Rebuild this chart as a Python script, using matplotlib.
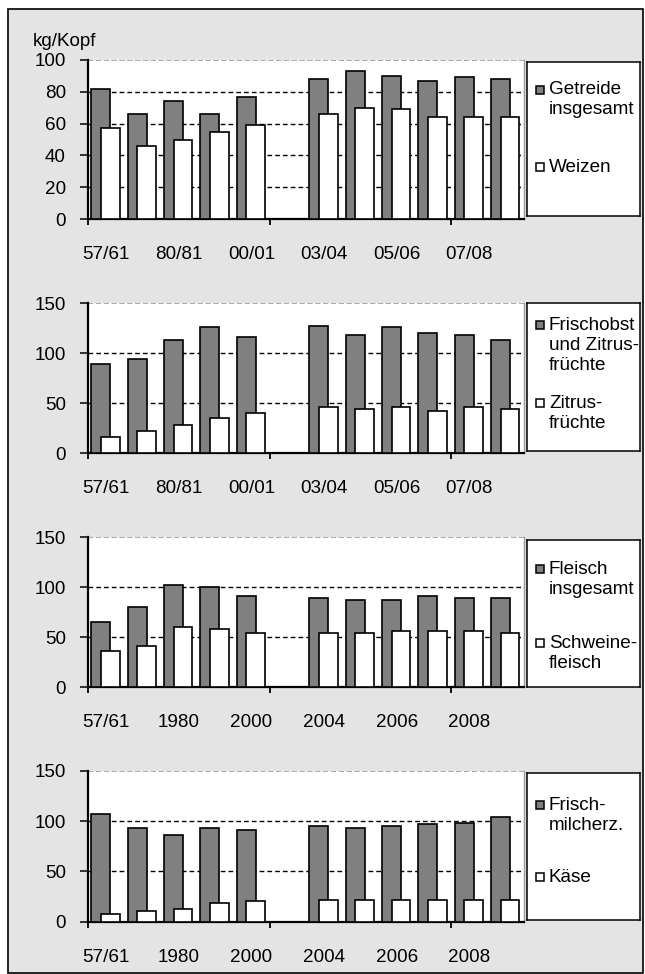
import numpy as np
import matplotlib
matplotlib.use("Agg")
import matplotlib.pyplot as plt
from matplotlib.patches import Rectangle

plt.rcParams['font.family'] = ['Liberation Sans', 'DejaVu Sans']

# ---- data (kg per head); slot 5 is an empty spacer between the two periods ----
labels_periods = ['57/61', '', '80/81', '', '00/01', '', '03/04', '', '05/06', '', '07/08', '']
labels_years = ['57/61', '', '1980', '', '2000', '', '2004', '', '2006', '', '2008', '']

getreide = [82, 66, 74, 66, 77, np.nan, 88, 93, 90, 87, 89, 88]
weizen = [57, 46, 50, 55, 59, np.nan, 66, 70, 69, 64, 64, 64]

frischobst = [89, 94, 113, 126, 116, np.nan, 127, 118, 126, 120, 118, 113]
zitrus = [16, 22, 28, 35, 40, np.nan, 46, 44, 46, 42, 46, 44]

fleisch = [65, 80, 102, 100, 91, np.nan, 89, 87, 87, 91, 89, 89]
schwein = [36, 41, 60, 58, 54, np.nan, 54, 54, 56, 56, 56, 54]

milch = [107, 93, 86, 93, 91, np.nan, 95, 93, 95, 97, 98, 104]
kaese = [8, 11, 13, 19, 21, np.nan, 22, 22, 22, 22, 22, 22]

W, H = 645, 974
FS = 13.6
BG = '#e4e4e4'
DARK = '#808080'

fig = plt.figure(figsize=(W / 100, H / 100), dpi=100, facecolor='white')

# outer frame drawn on a background axes spanning the figure
bg = fig.add_axes([0, 0, 1, 1], zorder=-10)
bg.set_xlim(0, W)
bg.set_ylim(H, 0)
bg.axis('off')
bg.add_patch(Rectangle((7.5, 9), 643 - 7.5, 973 - 9, facecolor=BG,
                       edgecolor='black', linewidth=1.2))


def px_axes(left, top, right, bottom):
    return fig.add_axes([left / W, 1 - bottom / H, (right - left) / W, (bottom - top) / H])


def panel(top, bottom, s1, s2, ymax, ystep, xlabels, legend_top, legend_bottom, entries):
    ax = px_axes(88, top, 524, bottom)
    ax.set_facecolor('white')
    x = np.arange(len(s1))
    ax.bar(x - 0.145, s1, width=0.52, color=DARK, edgecolor='black', linewidth=1.2, zorder=3)
    ax.bar(x + 0.115, s2, width=0.52, color='white', edgecolor='black', linewidth=1.2, zorder=4)
    ax.set_xlim(-0.5, len(s1) - 0.5)
    ax.set_ylim(0, ymax)

    yt = np.arange(0, ymax + 1, ystep)
    ax.set_yticks(yt)
    ax.set_yticklabels([str(v) for v in yt])
    for v in yt[1:-1]:
        ax.axhline(v, color='black', linewidth=1.0, dashes=(3.4, 2.2), zorder=1)
    ax.axhline(ymax, color='#9a9a9a', linewidth=1.2, dashes=(3.2, 1.5), zorder=1)

    # tick marks every five slots, labels on every second slot
    ax.set_xticks([-0.5, 4.5, 9.5])
    ax.set_xticklabels([])
    ax.set_xticks(x, minor=True)
    ax.set_xticklabels(xlabels, minor=True)
    ax.tick_params(axis='x', which='major', direction='out', length=4, width=1.3, color='black')
    ax.tick_params(axis='x', which='minor', length=0, pad=19.5, labelsize=FS)
    ax.tick_params(axis='y', direction='out', length=5.5, width=1.1, pad=10.5, labelsize=FS)

    for side in ('left', 'bottom'):
        ax.spines[side].set_linewidth(1.6)
        ax.spines[side].set_color('black')
    ax.spines['top'].set_visible(False)
    ax.spines['right'].set_color('#9a9a9a')
    ax.spines['right'].set_linewidth(1.0)

    # legend box
    lg = px_axes(527, legend_top, 640, legend_bottom)
    lw, lh = 640 - 527, legend_bottom - legend_top
    lg.set_xlim(0, lw)
    lg.set_ylim(lh, 0)
    lg.set_xticks([])
    lg.set_yticks([])
    lg.set_facecolor('white')
    for sp in lg.spines.values():
        sp.set_linewidth(1.1)
        sp.set_color('black')
    for (text, ypos), fc in zip(entries, (DARK, 'white')):
        lg.add_patch(Rectangle((9, ypos - 4), 8, 8, facecolor=fc, edgecolor='black', linewidth=1.1))
        for k, line in enumerate(text.split('\n')):
            lg.text(22, ypos + 20 * k, line, fontsize=FS, va='center', ha='left')
    return ax


panel(60, 219, getreide, weizen, 100, 20, labels_periods, 62, 216,
      [('Getreide\ninsgesamt', 28), ('Weizen', 105)])
panel(303.5, 453.3, frischobst, zitrus, 150, 50, labels_periods, 303, 451,
      [('Frischobst\nund Zitrus-\nfrüchte', 22), ('Zitrus-\nfrüchte', 100)])
panel(537.3, 687.3, fleisch, schwein, 150, 50, labels_years, 540, 687,
      [('Fleisch\ninsgesamt', 29), ('Schweine-\nfleisch', 103)])
panel(770.7, 921.7, milch, kaese, 150, 50, labels_years, 773, 920,
      [('Frisch-\nmilcherz.', 32), ('Käse', 104)])

fig.text(33 / W, 1 - 46 / H, 'kg/Kopf', fontsize=FS, ha='left', va='baseline')

fig.savefig('out.png', dpi=100, facecolor='white')
